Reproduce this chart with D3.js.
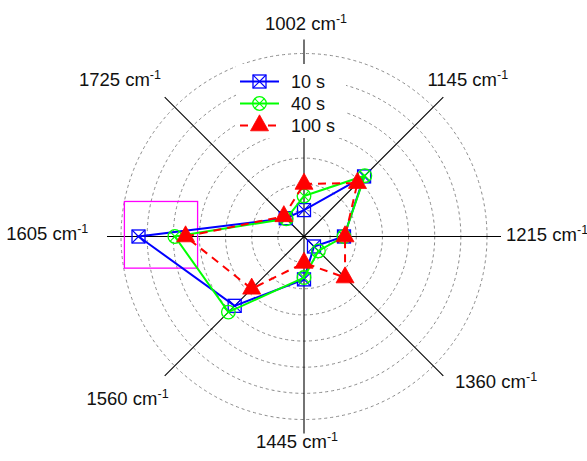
<!DOCTYPE html>
<html><head><meta charset="utf-8">
<script src="https://cdn.jsdelivr.net/npm/d3@7/dist/d3.min.js"></script>
<style>body{margin:0;background:#fff}svg{display:block}text{font-family:"Liberation Sans",Arial,sans-serif;fill:#111}</style>
</head><body>
<svg id="c" width="587" height="461"></svg>
<script>
// ---- data ----
const axes = ["1002", "1145", "1215", "1360", "1445", "1560", "1605", "1725"];
const rings = [1, 2, 3, 4, 5, 6, 7];
const seriesNames = ["10 s", "40 s", "100 s"];
const s10  = [1.01, 3.25, 1.53, 0.54, 1.64, 3.75, 6.33, 0.99];
const s40  = [1.55, 3.29, 1.53, 0.78, 1.57, 4.09, 4.94, 0.96];
const s100 = [2.01, 2.89, 1.57, 2.22, 1.01, 2.83, 4.53, 1.09];
const highlight = {axis: "1605", r0: 4.07, r1: 6.87, up: 1.34, down: 1.21};

// ---- layout ----
const svg = d3.select("#c");
const cx = 304, cy = 236.5;
const r = d3.scaleLinear().domain([0, 7]).range([0, 183]);
const ang = d3.scalePoint().domain(axes).range([0, 2 * Math.PI * 7 / 8]);
const px = (a, v) => cx + r(v) * Math.sin(a);
const py = (a, v) => cy - r(v) * Math.cos(a);
const g = svg.append("g");

// rings
g.selectAll("circle.ring").data(rings).join("circle")
  .attr("cx", cx).attr("cy", cy).attr("r", d => r(d))
  .attr("fill", "none").attr("stroke", "#8a8a8a").attr("stroke-width", 1)
  .attr("stroke-dasharray", "3,3");

// axis lines
const axisLen = 197;
g.selectAll("line.ax").data(axes).join("line")
  .attr("x1", cx).attr("y1", cy)
  .attr("x2", d => cx + axisLen * Math.sin(ang(d)))
  .attr("y2", d => cy - axisLen * Math.cos(ang(d)))
  .attr("stroke", "#000").attr("stroke-width", 1.1);

// axis labels (layout: anchor + offset from outer ring point)
const labelLayout = {
  "1002": ["middle", 2, -23.5], "1145": ["start", -6, -21], "1215": ["start", 19, 4],
  "1360": ["start", 21.6, 22], "1445": ["middle", -7, 28.5], "1560": ["end", -6, 39],
  "1605": ["end", -32.7, 3], "1725": ["end", -13.6, -21]
};
axes.forEach(a => {
  const L = labelLayout[a];
  const t = g.append("text")
    .attr("x", px(ang(a), 7) + L[1]).attr("y", py(ang(a), 7) + L[2])
    .attr("text-anchor", L[0]).attr("font-size", 18.5);
  t.append("tspan").text(a + " cm");
  t.append("tspan").attr("font-size", 12.5).attr("dy", -7).text("-1");
});

// highlight box
{
  const a = ang(highlight.axis);
  const xA = px(a, highlight.r1), xB = px(a, highlight.r0);
  g.append("rect")
    .attr("x", Math.min(xA, xB)).attr("y", cy - r(highlight.up))
    .attr("width", Math.abs(xB - xA)).attr("height", r(highlight.up) + r(highlight.down))
    .attr("fill", "none").attr("stroke", "#ff00ff").attr("stroke-width", 1.3);
}

// marker drawers
function mSquare(sel, x, y, col) {
  const h = 6.5;
  sel.append("rect").attr("x", x - h).attr("y", y - h).attr("width", 2 * h).attr("height", 2 * h)
    .attr("fill", "none").attr("stroke", col).attr("stroke-width", 1.3);
  sel.append("path").attr("d", `M${x-h},${y-h}L${x+h},${y+h}M${x+h},${y-h}L${x-h},${y+h}`)
    .attr("stroke", col).attr("stroke-width", 1.1);
}
function mCircle(sel, x, y, col) {
  const rr = 6.8, k = rr * Math.SQRT1_2;
  sel.append("circle").attr("cx", x).attr("cy", y).attr("r", rr)
    .attr("fill", "none").attr("stroke", col).attr("stroke-width", 1.3);
  sel.append("path").attr("d", `M${x-k},${y-k}L${x+k},${y+k}M${x+k},${y-k}L${x-k},${y+k}`)
    .attr("stroke", col).attr("stroke-width", 1.1);
}
function mTri(sel, x, y, col) {
  const w = 9, top = 10.7, bot = 5.3;
  sel.append("path").attr("d", `M${x},${y-top}L${x+w},${y+bot}L${x-w},${y+bot}Z`)
    .attr("fill", col).attr("stroke", col).attr("stroke-width", 0.8);
}

const series = [
  {name: seriesNames[0], vals: s10, col: "#0000ff", dash: null, m: mSquare},
  {name: seriesNames[1], vals: s40, col: "#00ff00", dash: null, m: mCircle},
  {name: seriesNames[2], vals: s100, col: "#ff0000", dash: "8,6", m: mTri}
];

const line = d3.lineRadial()
  .angle((d, i) => ang(axes[i]))
  .radius(d => r(d))
  .curve(d3.curveLinearClosed);

series.forEach(s => {
  const sg = g.append("g");
  sg.append("path").attr("transform", `translate(${cx},${cy})`)
    .attr("d", line(s.vals)).attr("fill", "none")
    .attr("stroke", s.col).attr("stroke-width", 2)
    .attr("stroke-dasharray", s.dash);
  s.vals.forEach((v, i) => s.m(sg, px(ang(axes[i]), v), py(ang(axes[i]), v), s.col));
});

// legend
const lg = svg.append("g");
lg.append("rect").attr("x", 236).attr("y", 64).attr("width", 110).attr("height", 74).attr("fill", "#fff");
series.forEach((s, i) => {
  const y = 81.5 + i * 22;
  lg.append("line").attr("x1", 240).attr("x2", 279).attr("y1", y).attr("y2", y)
    .attr("stroke", s.col).attr("stroke-width", 2).attr("stroke-dasharray", s.dash);
  s.m(lg, 259.5, y, s.col);
  lg.append("text").attr("x", 291).attr("y", y + 6.5).attr("font-size", 18).text(s.name);
});
</script>
</body></html>
